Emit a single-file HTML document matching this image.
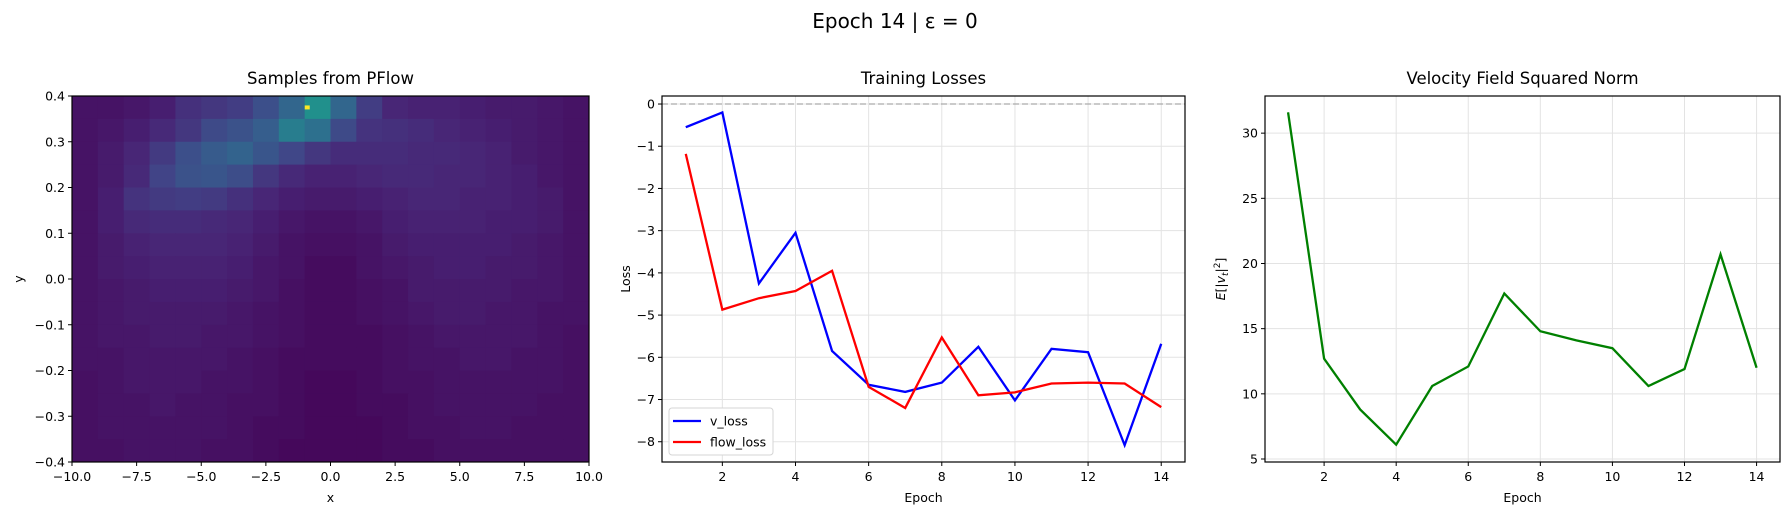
<!DOCTYPE html>
<html><head><meta charset="utf-8"><style>
html,body{margin:0;padding:0;background:#fff;}
svg{display:block;font-family:"DejaVu Sans","Liberation Sans",sans-serif;}
</style></head><body>
<svg id="fig" width="1790" height="515" viewBox="0 0 1790 515">
<text x="895" y="28" font-size="20" text-anchor="middle">Epoch 14 | ε = 0</text>
<g id="p1"></g>
<g id="p2"></g>
<g id="p3"></g>
</svg>
<script>
// ---- data ----
const densityGrid = [
 [0.10,0.10,0.11,0.13,0.18,0.20,0.22,0.28,0.36,0.52,0.36,0.22,0.15,0.14,0.14,0.13,0.12,0.12,0.11,0.10],
 [0.10,0.11,0.13,0.16,0.20,0.26,0.29,0.33,0.45,0.40,0.26,0.19,0.18,0.17,0.15,0.14,0.13,0.12,0.11,0.10],
 [0.10,0.12,0.15,0.21,0.28,0.32,0.35,0.30,0.25,0.20,0.17,0.17,0.17,0.16,0.16,0.15,0.14,0.12,0.11,0.10],
 [0.10,0.12,0.16,0.24,0.29,0.30,0.27,0.20,0.16,0.14,0.14,0.15,0.16,0.16,0.15,0.15,0.14,0.13,0.11,0.10],
 [0.10,0.13,0.19,0.21,0.22,0.21,0.18,0.15,0.13,0.12,0.12,0.13,0.14,0.15,0.15,0.14,0.14,0.13,0.12,0.10],
 [0.10,0.13,0.16,0.17,0.17,0.16,0.15,0.13,0.11,0.10,0.10,0.11,0.13,0.14,0.14,0.14,0.13,0.13,0.12,0.10],
 [0.10,0.12,0.14,0.15,0.15,0.15,0.14,0.12,0.10,0.09,0.09,0.10,0.12,0.13,0.13,0.13,0.13,0.12,0.11,0.10],
 [0.10,0.12,0.13,0.14,0.14,0.14,0.13,0.11,0.10,0.08,0.08,0.10,0.11,0.12,0.13,0.13,0.12,0.12,0.11,0.10],
 [0.10,0.11,0.12,0.13,0.13,0.13,0.12,0.11,0.09,0.08,0.08,0.09,0.10,0.12,0.12,0.12,0.12,0.11,0.11,0.10],
 [0.10,0.11,0.12,0.12,0.12,0.12,0.11,0.10,0.09,0.08,0.08,0.09,0.10,0.11,0.12,0.12,0.11,0.11,0.10,0.10],
 [0.10,0.11,0.11,0.12,0.12,0.11,0.11,0.10,0.09,0.08,0.08,0.08,0.09,0.10,0.11,0.11,0.11,0.11,0.10,0.09],
 [0.10,0.10,0.11,0.11,0.11,0.11,0.10,0.09,0.08,0.08,0.08,0.08,0.09,0.10,0.10,0.11,0.11,0.10,0.10,0.09],
 [0.09,0.10,0.11,0.11,0.11,0.10,0.10,0.09,0.08,0.07,0.07,0.08,0.09,0.09,0.10,0.10,0.10,0.10,0.10,0.09],
 [0.09,0.10,0.10,0.11,0.10,0.10,0.09,0.09,0.08,0.07,0.07,0.08,0.08,0.09,0.10,0.10,0.10,0.10,0.09,0.09],
 [0.09,0.10,0.10,0.10,0.10,0.10,0.09,0.08,0.08,0.07,0.07,0.07,0.08,0.09,0.09,0.10,0.10,0.09,0.09,0.09],
 [0.09,0.09,0.10,0.10,0.10,0.09,0.09,0.08,0.07,0.07,0.07,0.07,0.08,0.08,0.09,0.09,0.09,0.09,0.09,0.09]
];
const xTicks1 = [-10,-7.5,-5,-2.5,0,2.5,5,7.5,10];
const yTicks1 = [-0.4,-0.3,-0.2,-0.1,0,0.1,0.2,0.3,0.4];
const epochs = [1,2,3,4,5,6,7,8,9,10,11,12,13,14];
const vLoss = [-0.55,-0.2,-4.25,-3.05,-5.85,-6.65,-6.82,-6.6,-5.75,-7.02,-5.8,-5.88,-8.08,-5.68];
const flowLoss = [-1.18,-4.87,-4.6,-4.43,-3.95,-6.7,-7.2,-5.53,-6.9,-6.83,-6.62,-6.6,-6.62,-7.18];
const lossTicks = [0,-1,-2,-3,-4,-5,-6,-7,-8];
const epochTicks = [2,4,6,8,10,12,14];
const velNorm = [31.6,12.7,8.8,6.1,10.6,12.1,17.7,14.8,14.1,13.5,10.6,11.9,20.7,12.0];
const velTicks = [5,10,15,20,25,30];

const NS='http://www.w3.org/2000/svg';
function mk(parent,tag,attrs,txt){const e=document.createElementNS(NS,tag);for(const k in attrs)e.setAttribute(k,attrs[k]);if(txt!==undefined)e.textContent=txt;parent.appendChild(e);return e;}
function fmt(v,d){const s=v.toFixed(d);return (v<0?'\u2212'+s.slice(1):s);}
const vir=[[68,1,84],[72,36,117],[65,68,135],[53,95,141],[42,120,142],[33,145,140],[34,168,132],[68,191,112],[122,209,81],[189,223,38],[253,231,37]];
function viridis(t){t=Math.max(0,Math.min(1,t))*10;const i=Math.min(9,Math.floor(t)),f=t-i;const a=vir[i],b=vir[i+1];return `rgb(${a.map((c,k)=>Math.round(c+(b[k]-c)*f)).join(',')})`;}
const vmin=0.05, vmax=1.0;

function axesFrame(g,L,R,T,B,name){
  const r=mk(g,'rect',{x:L,y:T,width:R-L,height:B-T,fill:'none',stroke:'#000','stroke-width':1.2});
  
  
}
function title(g,x,y,s,name){const t=mk(g,'text',{x:x,y:y,'font-size':16.5,'text-anchor':'middle'},s);}

// ---- panel 1 heatmap ----
(function(){
  const g=document.getElementById('p1');
  const L=72,R=589,T=96,B=462;
  const xs=v=>L+(v+10)/20*(R-L), ys=v=>B-(v+0.4)/0.8*(B-T);
  const rows=densityGrid.length, cols=densityGrid[0].length;
  const cw=(R-L)/cols, ch=(B-T)/rows;
  densityGrid.forEach((row,ri)=>row.forEach((v,ci)=>{
    const c=mk(g,'rect',{x:L+ci*cw,y:T+ri*ch,width:cw+0.5,height:ch+0.5,fill:viridis((v-vmin)/(vmax-vmin))});
    
    
  }));
  const pk=mk(g,'rect',{x:xs(-0.9)-2.5,y:ys(0.375)-2,width:5,height:4,fill:viridis(1)});
  
  
  axesFrame(g,L,R,T,B,'samples');
  xTicks1.forEach(v=>{const x=xs(v);mk(g,'line',{x1:x,x2:x,y1:B,y2:B+4,stroke:'#000'});
    const t=mk(g,'text',{x:x,y:B+19,'font-size':12.5,'text-anchor':'middle'},fmt(v,1));});
  yTicks1.forEach(v=>{const y=ys(v);mk(g,'line',{x1:L-4,x2:L,y1:y,y2:y,stroke:'#000'});
    const t=mk(g,'text',{x:L-7,y:y+4.5,'font-size':12.5,'text-anchor':'end'},fmt(v,1));});
  title(g,(L+R)/2,84,'Samples from PFlow','samples-title');
  const xl=mk(g,'text',{x:(L+R)/2,y:502,'font-size':12.5,'text-anchor':'middle'},'x');
  const yl=mk(g,'text',{x:0,y:0,'font-size':12.5,'text-anchor':'middle',transform:`translate(23,${(T+B)/2}) rotate(-90)`},'y');
})();

// ---- panel 2 losses ----
(function(){
  const g=document.getElementById('p2');
  const L=662,R=1185,T=96,B=462;
  const x0=0.35,x1=14.65,y0=-8.48,y1=0.19;
  const xs=v=>L+(v-x0)/(x1-x0)*(R-L), ys=v=>B-(v-y0)/(y1-y0)*(B-T);
  epochTicks.forEach(v=>mk(g,'line',{x1:xs(v),x2:xs(v),y1:T,y2:B,stroke:'#e3e3e3'}));
  lossTicks.forEach(v=>mk(g,'line',{x1:L,x2:R,y1:ys(v),y2:ys(v),stroke:'#e3e3e3'}));
  const zl=mk(g,'line',{x1:L,x2:R,y1:ys(0),y2:ys(0),stroke:'#aaa','stroke-width':1.3,'stroke-dasharray':'6,3'});
  
  const pv=mk(g,'polyline',{points:epochs.map((e,i)=>xs(e)+','+ys(vLoss[i])).join(' '),fill:'none',stroke:'#0000ff','stroke-width':2.3,'stroke-linejoin':'miter'});
  
  const pf=mk(g,'polyline',{points:epochs.map((e,i)=>xs(e)+','+ys(flowLoss[i])).join(' '),fill:'none',stroke:'#ff0000','stroke-width':2.3});
  
  axesFrame(g,L,R,T,B,'losses');
  epochTicks.forEach(v=>{const x=xs(v);mk(g,'line',{x1:x,x2:x,y1:B,y2:B+4,stroke:'#000'});
    const t=mk(g,'text',{x:x,y:B+19,'font-size':12.5,'text-anchor':'middle'},String(v));});
  lossTicks.forEach(v=>{const y=ys(v);mk(g,'line',{x1:L-4,x2:L,y1:y,y2:y,stroke:'#000'});
    const t=mk(g,'text',{x:L-7,y:y+4.5,'font-size':12.5,'text-anchor':'end'},v===0?'0':fmt(v,0));});
  title(g,(L+R)/2,84,'Training Losses','losses-title');
  const xl=mk(g,'text',{x:(L+R)/2,y:502,'font-size':12.5,'text-anchor':'middle'},'Epoch');
  const yl=mk(g,'text',{x:0,y:0,'font-size':12.5,'text-anchor':'middle',transform:`translate(630,${(T+B)/2}) rotate(-90)`},'Loss');
  const lg=mk(g,'g',{});
  mk(lg,'rect',{x:669,y:408,width:104,height:47,rx:3,fill:'#fff',stroke:'#d5d5d5'});
  mk(lg,'line',{x1:673,x2:701,y1:421,y2:421,stroke:'#0000ff','stroke-width':2.3});
  const e1=mk(lg,'text',{x:710,y:425.5,'font-size':12.5},'v_loss');
  mk(lg,'line',{x1:673,x2:701,y1:442,y2:442,stroke:'#ff0000','stroke-width':2.3});
  const e2=mk(lg,'text',{x:710,y:446.5,'font-size':12.5},'flow_loss');
})();

// ---- panel 3 velocity ----
(function(){
  const g=document.getElementById('p3');
  const L=1265,R=1780,T=96,B=462;
  const x0=0.36,x1=14.65,y0=4.77,y1=32.85;
  const xs=v=>L+(v-x0)/(x1-x0)*(R-L), ys=v=>B-(v-y0)/(y1-y0)*(B-T);
  epochTicks.forEach(v=>mk(g,'line',{x1:xs(v),x2:xs(v),y1:T,y2:B,stroke:'#e3e3e3'}));
  velTicks.forEach(v=>mk(g,'line',{x1:L,x2:R,y1:ys(v),y2:ys(v),stroke:'#e3e3e3'}));
  const pl=mk(g,'polyline',{points:epochs.map((e,i)=>xs(e)+','+ys(velNorm[i])).join(' '),fill:'none',stroke:'#008000','stroke-width':2.3});
  
  axesFrame(g,L,R,T,B,'velocity');
  epochTicks.forEach(v=>{const x=xs(v);mk(g,'line',{x1:x,x2:x,y1:B,y2:B+4,stroke:'#000'});
    const t=mk(g,'text',{x:x,y:B+19,'font-size':12.5,'text-anchor':'middle'},String(v));});
  velTicks.forEach(v=>{const y=ys(v);mk(g,'line',{x1:L-4,x2:L,y1:y,y2:y,stroke:'#000'});
    const t=mk(g,'text',{x:L-7,y:y+4.5,'font-size':12.5,'text-anchor':'end'},String(v));});
  title(g,(L+R)/2,84,'Velocity Field Squared Norm','velocity-title');
  const xl=mk(g,'text',{x:(L+R)/2,y:502,'font-size':12.5,'text-anchor':'middle'},'Epoch');
  const yl=mk(g,'text',{x:0,y:0,'font-size':12.5,'text-anchor':'middle',transform:`translate(1225,${(T+B)/2}) rotate(-90)`});
  
  mk(yl,'tspan',{'font-style':'italic'},'E');
  mk(yl,'tspan',{},'[|');
  mk(yl,'tspan',{'font-style':'italic'},'v');
  mk(yl,'tspan',{'font-size':9,dy:3,'font-style':'italic'},'t');
  mk(yl,'tspan',{dy:-3},'|');
  mk(yl,'tspan',{'font-size':9,dy:-5},'2');
  mk(yl,'tspan',{dy:5},']');
})();
</script>
</body></html>
